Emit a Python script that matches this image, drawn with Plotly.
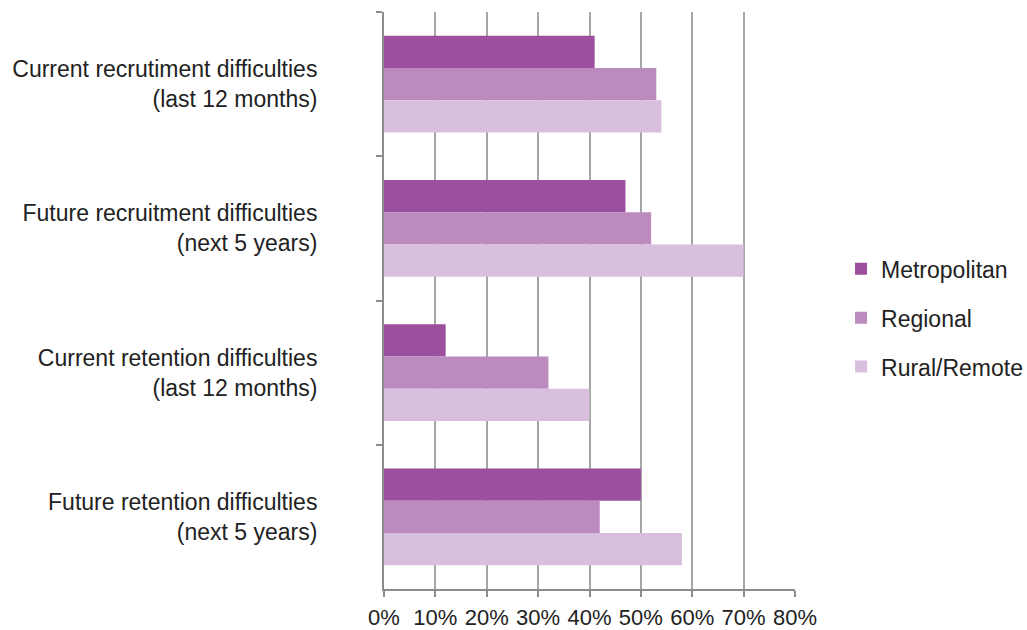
import plotly.graph_objects as go

categories = [
    "Current recrutiment difficulties<br>(last 12 months)",
    "Future recruitment difficulties<br>(next 5 years)",
    "Current retention difficulties<br>(last 12 months)",
    "Future retention difficulties<br>(next 5 years)",
]
metropolitan = [41, 47, 12, 50]
regional = [53, 52, 32, 42]
rural_remote = [54, 70, 40, 58]

tick_vals = [0, 10, 20, 30, 40, 50, 60, 70, 80]
tick_text = ["0%", "10%", "20%", "30%", "40%", "50%", "60%", "70%", "80%"]

series = [
    ("Metropolitan", metropolitan, "#9b4f9c"),
    ("Regional", regional, "#bb8bbf"),
    ("Rural/Remote", rural_remote, "#d8bfdd"),
]

fig = go.Figure()
for i, (name, vals, color) in enumerate(series):
    fig.add_trace(go.Bar(
        y=categories, x=vals, name=name, orientation="h",
        marker=dict(color=color, line=dict(width=0)),
        legendgroup=f"g{i}",
    ))

fig.update_layout(
    width=1027, height=630,
    margin=dict(l=384, r=232, t=12, b=41, autoexpand=False),
    paper_bgcolor="white", plot_bgcolor="white",
    font=dict(family="Liberation Sans, Arial, sans-serif", size=22, color="#222222"),
    barmode="group", bargap=0.33, bargroupgap=0,
    showlegend=True,
    legend=dict(x=1.112, xanchor="left", y=0.47, yanchor="middle",
                tracegroupgap=16, font=dict(size=23),
                itemwidth=30, bgcolor="rgba(0,0,0,0)"),
)

fig.update_xaxes(
    range=[0, 80], tickvals=tick_vals, ticktext=tick_text,
    tickfont=dict(size=22),
    showgrid=True, gridcolor="#a6a6a6", gridwidth=1.5,
    showline=True, linecolor="#8c8c8c", linewidth=2,
    ticks="outside", ticklen=6, tickcolor="#8c8c8c", tickwidth=2,
    ticklabelstandoff=2, automargin=False,
    zeroline=False, fixedrange=True,
)
fig.update_yaxes(
    autorange="reversed", showgrid=False,
    tickfont=dict(size=23),
    showline=True, linecolor="#8c8c8c", linewidth=2,
    ticks="outside", ticklen=6, tickcolor="#8c8c8c", tickwidth=2,
    tickson="boundaries", ticklabelstandoff=60, automargin=False,
)

fig.write_html("out.html")
